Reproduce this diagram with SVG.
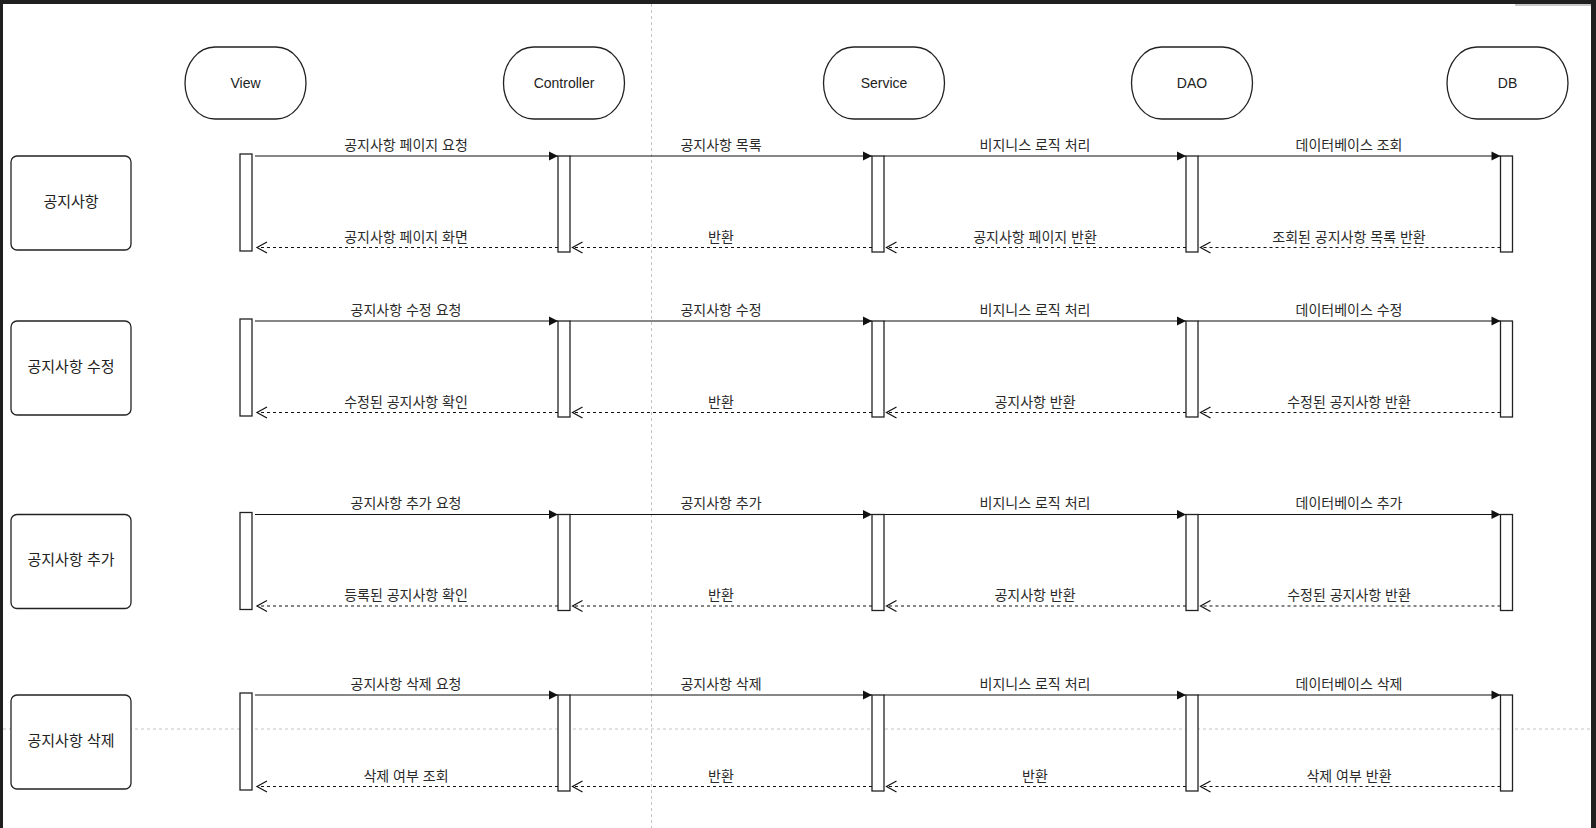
<svg xmlns="http://www.w3.org/2000/svg" width="1596" height="828" viewBox="0 0 1596 828">
<style>
.guide{stroke:#c4c4c4;stroke-width:1;stroke-dasharray:3 3;fill:none}
.actor{fill:#fff;stroke:#222;stroke-width:1.3}
.box{fill:#fff;stroke:#222;stroke-width:1.3}
.bar{fill:#fff;stroke:#222;stroke-width:1.3}
.req{stroke:#111;stroke-width:1.2;fill:none}
.ret{stroke:#111;stroke-width:1.2;fill:none;stroke-dasharray:3 3}
.at{font-family:"Liberation Sans",Arial,sans-serif;font-size:14px;fill:#222;text-anchor:middle}
.bt{font-family:"Liberation Sans","Noto Sans CJK KR",sans-serif;font-size:15px;fill:#222;text-anchor:middle}
.lt{font-family:"Liberation Sans","Noto Sans CJK KR",sans-serif;font-size:14px;fill:#2a2a2a;text-anchor:middle}
</style>
<defs>
<marker id="solid" markerUnits="userSpaceOnUse" markerWidth="10" markerHeight="10" refX="9" refY="4.5" orient="auto" overflow="visible">
<path d="M0,0 L9,4.5 L0,9 Z" fill="#111" stroke="none"/>
</marker>
<marker id="open" markerUnits="userSpaceOnUse" markerWidth="12" markerHeight="12" refX="10" refY="5.5" orient="auto" overflow="visible">
<path d="M0,0 L10,5.5 L0,11" fill="none" stroke="#111" stroke-width="1.2"/>
</marker>
</defs>
<rect x="0" y="0" width="1596" height="828" fill="#fff"/>
<g id="frame">
<rect x="0" y="0" width="1596" height="4" fill="#1f1f1f"/>
<rect x="0" y="0" width="3" height="828" fill="#1f1f1f"/>
<rect x="1591" y="0" width="5" height="828" fill="#1f1f1f"/>
<rect x="1515" y="4" width="76" height="2" fill="#c8c8c8"/>
</g>
<g id="guides">
<line class="guide" x1="651.5" y1="4" x2="651.5" y2="828"/>
<line class="guide" x1="3" y1="729" x2="1591" y2="729"/>
</g>
<g id="actor-view"><rect class="actor" x="185" y="47" width="121" height="72" rx="30" ry="36"/><text class="at" x="245.5" y="88">View</text></g>
<g id="actor-controller"><rect class="actor" x="503.5" y="47" width="121" height="72" rx="30" ry="36"/><text class="at" x="564" y="88">Controller</text></g>
<g id="actor-service"><rect class="actor" x="823.5" y="47" width="121" height="72" rx="30" ry="36"/><text class="at" x="884" y="88">Service</text></g>
<g id="actor-dao"><rect class="actor" x="1131.5" y="47" width="121" height="72" rx="30" ry="36"/><text class="at" x="1192" y="88">DAO</text></g>
<g id="actor-db"><rect class="actor" x="1447" y="47" width="121" height="72" rx="30" ry="36"/><text class="at" x="1507.5" y="88">DB</text></g>

<g id="case-list"><rect class="box" x="11" y="156" width="120" height="94" rx="6"/><text class="bt" x="71" y="206.5">공지사항</text></g>
<g id="case-edit"><rect class="box" x="11" y="321" width="120" height="94" rx="6"/><text class="bt" x="71" y="371.5">공지사항 수정</text></g>
<g id="case-add"><rect class="box" x="11" y="514.5" width="120" height="94" rx="6"/><text class="bt" x="71" y="565">공지사항 추가</text></g>
<g id="case-delete"><rect class="box" x="11" y="695" width="120" height="94" rx="6"/><text class="bt" x="71" y="745.5">공지사항 삭제</text></g>

<g id="activations">
<rect class="bar" x="240" y="154" width="12" height="97"/>
<rect class="bar" x="558" y="156" width="12" height="96"/>
<rect class="bar" x="872" y="156" width="12" height="96"/>
<rect class="bar" x="1186" y="156" width="12" height="96"/>
<rect class="bar" x="1500.5" y="156" width="12" height="96"/>

<rect class="bar" x="240" y="319" width="12" height="97"/>
<rect class="bar" x="558" y="321" width="12" height="96"/>
<rect class="bar" x="872" y="321" width="12" height="96"/>
<rect class="bar" x="1186" y="321" width="12" height="96"/>
<rect class="bar" x="1500.5" y="321" width="12" height="96"/>

<rect class="bar" x="240" y="512.5" width="12" height="97"/>
<rect class="bar" x="558" y="514.5" width="12" height="96"/>
<rect class="bar" x="872" y="514.5" width="12" height="96"/>
<rect class="bar" x="1186" y="514.5" width="12" height="96"/>
<rect class="bar" x="1500.5" y="514.5" width="12" height="96"/>

<rect class="bar" x="240" y="693" width="12" height="97"/>
<rect class="bar" x="558" y="695" width="12" height="96"/>
<rect class="bar" x="872" y="695" width="12" height="96"/>
<rect class="bar" x="1186" y="695" width="12" height="96"/>
<rect class="bar" x="1500.5" y="695" width="12" height="96"/>
</g>

<g id="connectors">
<line class="req" x1="255" y1="156" x2="558" y2="156" marker-end="url(#solid)"/>
<line class="req" x1="570" y1="156" x2="872" y2="156" marker-end="url(#solid)"/>
<line class="req" x1="884" y1="156" x2="1186" y2="156" marker-end="url(#solid)"/>
<line class="req" x1="1198" y1="156" x2="1500.5" y2="156" marker-end="url(#solid)"/>
<line class="ret" x1="558" y1="247.5" x2="257" y2="247.5" marker-end="url(#open)"/>
<line class="ret" x1="872" y1="247.5" x2="572.5" y2="247.5" marker-end="url(#open)"/>
<line class="ret" x1="1186" y1="247.5" x2="886.5" y2="247.5" marker-end="url(#open)"/>
<line class="ret" x1="1500.5" y1="247.5" x2="1200.5" y2="247.5" marker-end="url(#open)"/>

<line class="req" x1="255" y1="321" x2="558" y2="321" marker-end="url(#solid)"/>
<line class="req" x1="570" y1="321" x2="872" y2="321" marker-end="url(#solid)"/>
<line class="req" x1="884" y1="321" x2="1186" y2="321" marker-end="url(#solid)"/>
<line class="req" x1="1198" y1="321" x2="1500.5" y2="321" marker-end="url(#solid)"/>
<line class="ret" x1="558" y1="412.5" x2="257" y2="412.5" marker-end="url(#open)"/>
<line class="ret" x1="872" y1="412.5" x2="572.5" y2="412.5" marker-end="url(#open)"/>
<line class="ret" x1="1186" y1="412.5" x2="886.5" y2="412.5" marker-end="url(#open)"/>
<line class="ret" x1="1500.5" y1="412.5" x2="1200.5" y2="412.5" marker-end="url(#open)"/>

<line class="req" x1="255" y1="514.5" x2="558" y2="514.5" marker-end="url(#solid)"/>
<line class="req" x1="570" y1="514.5" x2="872" y2="514.5" marker-end="url(#solid)"/>
<line class="req" x1="884" y1="514.5" x2="1186" y2="514.5" marker-end="url(#solid)"/>
<line class="req" x1="1198" y1="514.5" x2="1500.5" y2="514.5" marker-end="url(#solid)"/>
<line class="ret" x1="558" y1="606" x2="257" y2="606" marker-end="url(#open)"/>
<line class="ret" x1="872" y1="606" x2="572.5" y2="606" marker-end="url(#open)"/>
<line class="ret" x1="1186" y1="606" x2="886.5" y2="606" marker-end="url(#open)"/>
<line class="ret" x1="1500.5" y1="606" x2="1200.5" y2="606" marker-end="url(#open)"/>

<line class="req" x1="255" y1="695" x2="558" y2="695" marker-end="url(#solid)"/>
<line class="req" x1="570" y1="695" x2="872" y2="695" marker-end="url(#solid)"/>
<line class="req" x1="884" y1="695" x2="1186" y2="695" marker-end="url(#solid)"/>
<line class="req" x1="1198" y1="695" x2="1500.5" y2="695" marker-end="url(#solid)"/>
<line class="ret" x1="558" y1="786.5" x2="257" y2="786.5" marker-end="url(#open)"/>
<line class="ret" x1="872" y1="786.5" x2="572.5" y2="786.5" marker-end="url(#open)"/>
<line class="ret" x1="1186" y1="786.5" x2="886.5" y2="786.5" marker-end="url(#open)"/>
<line class="ret" x1="1500.5" y1="786.5" x2="1200.5" y2="786.5" marker-end="url(#open)"/>
</g>

<g id="labels">
<text class="lt" x="406" y="149.5">공지사항 페이지 요청</text>
<text class="lt" x="721" y="149.5">공지사항 목록</text>
<text class="lt" x="1035" y="149.5">비지니스 로직 처리</text>
<text class="lt" x="1349" y="149.5">데이터베이스 조회</text>
<text class="lt" x="406" y="241.5">공지사항 페이지 화면</text>
<text class="lt" x="721" y="241.5">반환</text>
<text class="lt" x="1035" y="241.5">공지사항 페이지 반환</text>
<text class="lt" x="1349" y="241.5">조회된 공지사항 목록 반환</text>

<text class="lt" x="406" y="314.5">공지사항 수정 요청</text>
<text class="lt" x="721" y="314.5">공지사항 수정</text>
<text class="lt" x="1035" y="314.5">비지니스 로직 처리</text>
<text class="lt" x="1349" y="314.5">데이터베이스 수정</text>
<text class="lt" x="406" y="406.5">수정된 공지사항 확인</text>
<text class="lt" x="721" y="406.5">반환</text>
<text class="lt" x="1035" y="406.5">공지사항 반환</text>
<text class="lt" x="1349" y="406.5">수정된 공지사항 반환</text>

<text class="lt" x="406" y="508">공지사항 추가 요청</text>
<text class="lt" x="721" y="508">공지사항 추가</text>
<text class="lt" x="1035" y="508">비지니스 로직 처리</text>
<text class="lt" x="1349" y="508">데이터베이스 추가</text>
<text class="lt" x="406" y="600">등록된 공지사항 확인</text>
<text class="lt" x="721" y="600">반환</text>
<text class="lt" x="1035" y="600">공지사항 반환</text>
<text class="lt" x="1349" y="600">수정된 공지사항 반환</text>

<text class="lt" x="406" y="688.5">공지사항 삭제 요청</text>
<text class="lt" x="721" y="688.5">공지사항 삭제</text>
<text class="lt" x="1035" y="688.5">비지니스 로직 처리</text>
<text class="lt" x="1349" y="688.5">데이터베이스 삭제</text>
<text class="lt" x="406" y="780.5">삭제 여부 조회</text>
<text class="lt" x="721" y="780.5">반환</text>
<text class="lt" x="1035" y="780.5">반환</text>
<text class="lt" x="1349" y="780.5">삭제 여부 반환</text>
</g>
</svg>
